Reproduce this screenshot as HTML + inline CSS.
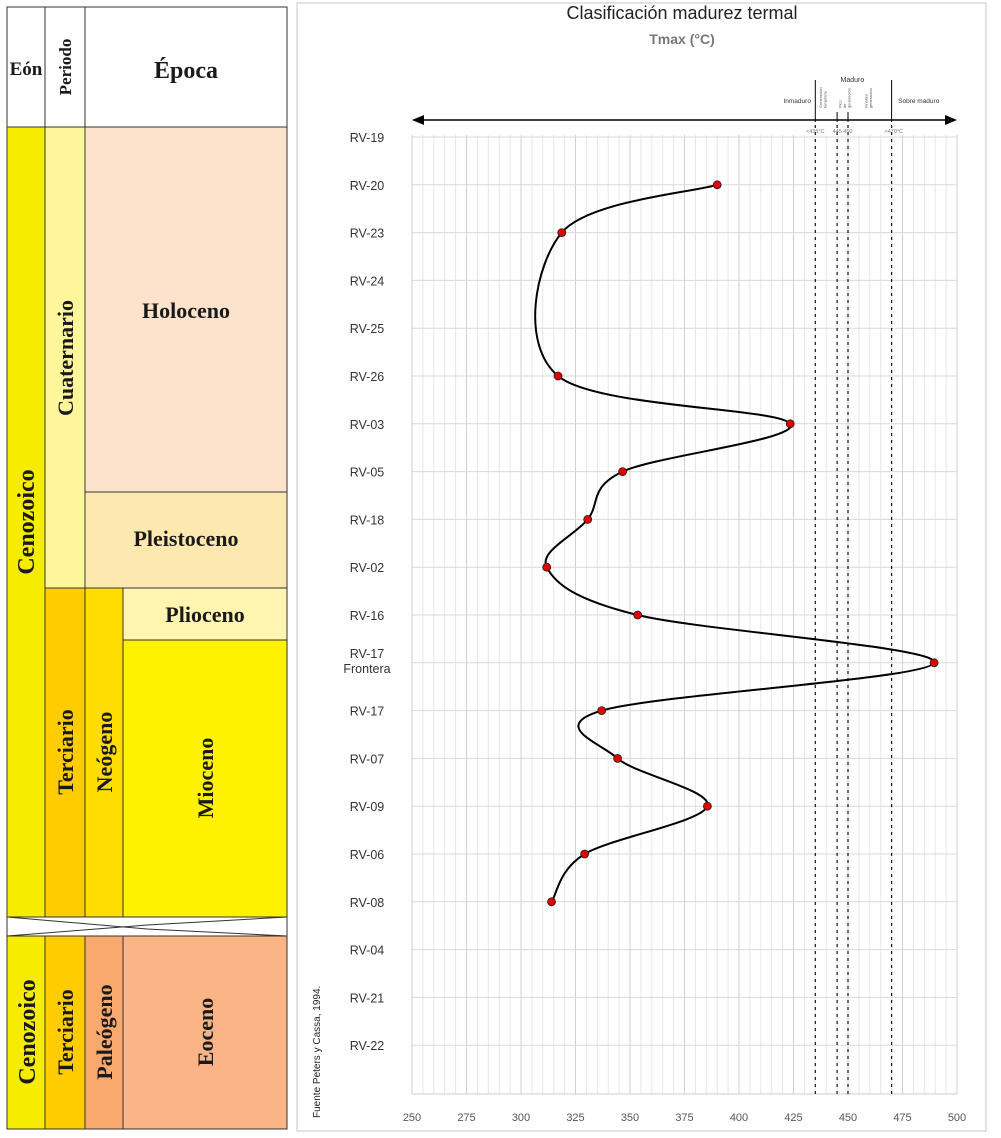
<!DOCTYPE html>
<html><head><meta charset="utf-8"><style>
body{margin:0;background:#fff;width:1001px;height:1138px;overflow:hidden}
svg{display:block}
.st{font-family:"Liberation Serif",serif;font-weight:bold;fill:#1a1a1a}
.ss{font-family:"Liberation Sans",sans-serif}
</style></head><body>
<svg id="root" width="1001" height="1138" viewBox="0 0 1001 1138" xmlns="http://www.w3.org/2000/svg">
<g stroke="#333" stroke-width="1">
 <rect x="7" y="7" width="280" height="120" fill="#fff"/>
 <line x1="45" y1="7" x2="45" y2="127"/><line x1="85" y1="7" x2="85" y2="127"/>
 <rect x="7" y="127" width="38" height="790" fill="#f5ec00"/>
 <rect x="45" y="127" width="40" height="461" fill="#fff59a"/>
 <rect x="85" y="127" width="202" height="365" fill="#fde3cb"/>
 <rect x="85" y="492" width="202" height="96" fill="#fde9b0"/>
 <rect x="45" y="588" width="40" height="329" fill="#ffcc00"/>
 <rect x="85" y="588" width="38" height="329" fill="#ffdd00"/>
 <rect x="123" y="588" width="164" height="52" fill="#fff5b0"/>
 <rect x="123" y="640" width="164" height="277" fill="#fff200"/>
 <rect x="7" y="917" width="280" height="19" fill="#fff"/>
 <polyline points="7,917 147,929 287,936" fill="none"/><polyline points="7,936 147,925 287,917" fill="none"/>
 <rect x="7" y="936" width="38" height="193" fill="#f5ec00"/>
 <rect x="45" y="936" width="40" height="193" fill="#ffcc00"/>
 <rect x="85" y="936" width="38" height="193" fill="#f9a86e"/>
 <rect x="123" y="936" width="164" height="193" fill="#fab486"/>
</g>
<g stroke="none">
 <text class="st" x="26" y="75" font-size="19" text-anchor="middle">Eón</text>
 <text class="st" font-size="17" text-anchor="middle" transform="translate(71,67) rotate(-90)">Periodo</text>
 <text class="st" x="186" y="78" font-size="24" text-anchor="middle">Época</text>
 <text class="st" font-size="24" text-anchor="middle" transform="translate(34,522) rotate(-90)">Cenozoico</text>
 <text class="st" font-size="22" text-anchor="middle" transform="translate(73,358) rotate(-90)">Cuaternario</text>
 <text class="st" x="186" y="318" font-size="22" text-anchor="middle">Holoceno</text>
 <text class="st" x="186" y="546" font-size="22" text-anchor="middle">Pleistoceno</text>
 <text class="st" x="205" y="622" font-size="22" text-anchor="middle">Plioceno</text>
 <text class="st" font-size="22" text-anchor="middle" transform="translate(73,752) rotate(-90)">Terciario</text>
 <text class="st" font-size="22" text-anchor="middle" transform="translate(112,752) rotate(-90)">Neógeno</text>
 <text class="st" font-size="22" text-anchor="middle" transform="translate(213,778) rotate(-90)">Mioceno</text>
 <text class="st" font-size="24" text-anchor="middle" transform="translate(35,1032) rotate(-90)">Cenozoico</text>
 <text class="st" font-size="22" text-anchor="middle" transform="translate(73,1032) rotate(-90)">Terciario</text>
 <text class="st" font-size="22" text-anchor="middle" transform="translate(112,1032) rotate(-90)">Paleógeno</text>
 <text class="st" font-size="22" text-anchor="middle" transform="translate(213,1032) rotate(-90)">Eoceno</text>
 <text class="ss" font-size="10" fill="#222" transform="translate(320,1118) rotate(-90)">Fuente  Peters y Cassa, 1994.</text>
</g>
<rect x="297" y="3" width="689" height="1128" fill="none" stroke="#d9d9d9" stroke-width="1.5"/>
<text class="ss" x="682" y="19" font-size="18" text-anchor="middle" fill="#222">Clasificación madurez termal</text>
<text class="ss" x="682" y="44" font-size="14" font-weight="bold" text-anchor="middle" fill="#777">Tmax (°C)</text>
<g id="chart"></g>
</svg>
<script>
const categories=["RV-19","RV-20","RV-23","RV-24","RV-25","RV-26","RV-03","RV-05","RV-18","RV-02","RV-16","RV-17 Frontera","RV-17","RV-07","RV-09","RV-06","RV-08","RV-04","RV-21","RV-22"];
const tmaxValues=[null,390,318.7,null,null,317,423.5,346.6,330.6,311.8,353.5,489.5,337,344.3,385.5,329.2,314,null,null,null];
const xTicks=[250,275,300,325,350,375,400,425,450,475,500];
const thresholds=[435,445,450,470];
const NS="http://www.w3.org/2000/svg";
const g=document.getElementById('chart');
const X0=412,X1=957,XMIN=250,XMAX=500,Y0=137,STEP=47.8,YB=1094;
const xs=v=>X0+(v-XMIN)/(XMAX-XMIN)*(X1-X0);
const ys=i=>Y0+i*STEP;
function el(t,a,p){const e=document.createElementNS(NS,t);for(const k in a)e.setAttribute(k,a[k]);(p||g).appendChild(e);return e;}
// grid
const grid=el('g',{});


for(let v=XMIN;v<=XMAX;v+=5){const l=el('line',{x1:xs(v),x2:xs(v),y1:Y0-2,y2:YB,stroke:v%25==0?'#d0d0d0':'#e6e6e6','stroke-width':1},grid);}
categories.forEach((c,i)=>{el('line',{x1:X0,x2:X1,y1:ys(i),y2:ys(i),stroke:'#d9d9d9','stroke-width':1},grid);});
el('line',{x1:X0,x2:X0,y1:Y0-2,y2:YB,stroke:'#ccc'},grid);
el('line',{x1:X0,x2:X1,y1:YB,y2:YB,stroke:'#ccc'},grid);
// x tick labels
xTicks.forEach(v=>{const t=el('text',{x:xs(v),y:1121,'font-size':11,'text-anchor':'middle',fill:'#555','class':'ss'});t.textContent=v;

});
// category labels
categories.forEach((c,i)=>{
 const parts=c.split(' ');
 const t=el('text',{x:367,y:ys(i)+(parts.length>1?-5:5),'font-size':12.5,'text-anchor':'middle',fill:'#333','class':'ss'});
 
 
 parts.forEach((p,k)=>{const s=el('tspan',{x:367,dy:k?15:0},t);s.textContent=p;});
});
// thresholds dashed
thresholds.forEach(v=>{const l=el('line',{x1:xs(v),x2:xs(v),y1:125,y2:YB,stroke:'#111','stroke-width':1.2,'stroke-dasharray':'3,4'});

});
// maturity scale
const sc=el('g',{});


el('line',{x1:X0+8,x2:X1-8,y1:120,y2:120,stroke:'#000','stroke-width':1.5},sc);
el('polygon',{points:`${X0},120 ${X0+12},115 ${X0+12},125`,fill:'#000'},sc);
el('polygon',{points:`${X1},120 ${X1-12},115 ${X1-12},125`,fill:'#000'},sc);
el('line',{x1:xs(435),x2:xs(435),y1:80,y2:122,stroke:'#000','stroke-width':1},sc);
el('line',{x1:xs(470),x2:xs(470),y1:80,y2:122,stroke:'#000','stroke-width':1},sc);
el('line',{x1:xs(445),x2:xs(445),y1:112,y2:122,stroke:'#000','stroke-width':1},sc);
el('line',{x1:xs(450),x2:xs(450),y1:112,y2:122,stroke:'#000','stroke-width':1},sc);
function txt(x,y,s,fs,an,extra){const t=el('text',Object.assign({x:x,y:y,'font-size':fs,'text-anchor':an||'middle',fill:'#333','class':'ss'},extra||{}),sc);t.textContent=s;return t;}
txt(xs(452),82,'Maduro',7);
txt(xs(433),103,'Inmaduro',6.5,'end');
txt(xs(473),103,'Sobre maduro',6.5,'start');
txt(xs(435),133,'<435°C',5.5,'middle',{fill:'#777'});
txt(xs(447.5),133,'445  450',5.5,'middle',{fill:'#777'});
txt(xs(471),133,'>470°C',5.5,'middle',{fill:'#777'});
[[438,'Generación temprana'],[447,'Pico de generación'],[459,'Finaliza generación']].forEach(([v,s])=>{
 const t=el('text',{'font-size':4,fill:'#555','class':'ss',transform:`translate(${xs(v)},108) rotate(-90)`},sc);
 const w=s.split(' ');w.forEach((p,k)=>{const sp=el('tspan',{x:0,dy:k?4.5:0},t);sp.textContent=p;});
});
// series
const pts=[];tmaxValues.forEach((v,i)=>{if(v!=null)pts.push([xs(v),ys(i)]);});
let d=`M${pts[0][0]},${pts[0][1]}`;
for(let i=0;i<pts.length-1;i++){
 const p0=pts[Math.max(0,i-1)],p1=pts[i],p2=pts[i+1],p3=pts[Math.min(pts.length-1,i+2)];
 const k=1/6;
 const c1=[p1[0]+(p2[0]-p0[0])*k,p1[1]+(p2[1]-p0[1])*k];
 const c2=[p2[0]-(p3[0]-p1[0])*k,p2[1]-(p3[1]-p1[1])*k];
 d+=` C${c1[0]},${c1[1]} ${c2[0]},${c2[1]} ${p2[0]},${p2[1]}`;
}
const line=el('path',{d:d,fill:'none',stroke:'#000','stroke-width':2});


tmaxValues.forEach((v,i)=>{if(v==null)return;
 const c=el('circle',{cx:xs(v),cy:ys(i),r:4,fill:'#e00000',stroke:'#222','stroke-width':0.8});
 
 
});
</script>
</body></html>
